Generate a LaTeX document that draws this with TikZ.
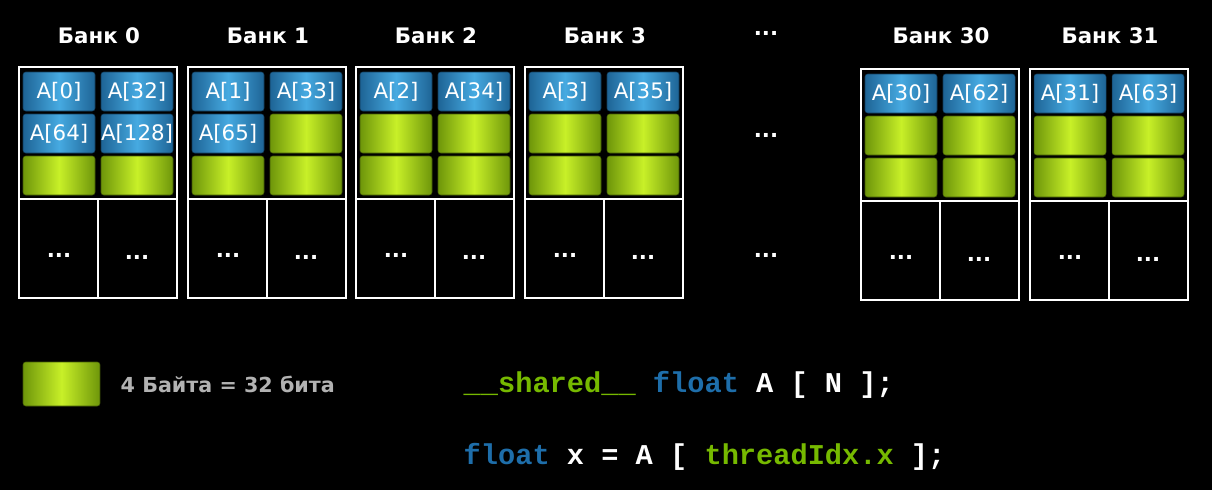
\documentclass[tikz,border=0pt]{standalone}
\usepackage{fontspec}
\setmainfont{DejaVu Sans}
\newfontfamily\codefont{Liberation Mono}
\definecolor{bluecell}{RGB}{30,100,150}
\definecolor{bluehi}{RGB}{70,170,225}
\definecolor{greencell}{RGB}{110,150,10}
\definecolor{greenhi}{RGB}{200,240,40}
\definecolor{codegreen}{RGB}{118,185,0}
\definecolor{codeblue}{RGB}{30,110,170}
\tikzset{
  bank/.style = {draw = white, line width = 1.5pt},
  bluebox/.style = {rounded corners = 2pt, left color = bluecell, right color = bluecell, middle color = bluehi, draw = bluecell!60!black},
  greenbox/.style = {rounded corners = 2pt, left color = greencell, right color = greencell, middle color = greenhi, draw = greencell!60!black},
  celltext/.style = {text = white, font = \fontsize{16}{16}\selectfont},
  title/.style = {text = white, font = \bfseries\fontsize{16}{16}\selectfont},
  dots/.style = {text = white, font = \bfseries\fontsize{16}{16}\selectfont}
}
% one bank: x, y, title, four labels (empty = green)
\newcommand{\bankbox}[8]{
  \draw[bank] (#1, #2) rectangle ++(158, 231);
  \draw[bank] (#1 + 79, #2 + 132) -- ++(0, 99);
  \draw[bank] (#1, #2 + 132) -- ++(158, 0);
  \node[title] (#3t) at (#1 + 80, 36) {#4};
  \foreach \r/\lab/\labb in {0/#5/#6, 1/#7/#8, 2//}{
    \ifx\lab\empty
      \draw[greenbox] (#1 + 4, #2 + 5 + \r*42) rectangle ++(72, 39);
    \else
      \draw[bluebox] (#1 + 4, #2 + 5 + \r*42) rectangle ++(72, 39) node[pos = 0.5, celltext] {\lab};
    \fi
    \ifx\labb\empty
      \draw[greenbox] (#1 + 82, #2 + 5 + \r*42) rectangle ++(72, 39);
    \else
      \draw[bluebox] (#1 + 82, #2 + 5 + \r*42) rectangle ++(72, 39) node[pos = 0.5, celltext] {\labb};
    \fi
  }
  \node[dots] at (#1 + 40, #2 + 188) {...};
  \node[dots] at (#1 + 118, #2 + 190) {...};
}
\begin{document}
\begin{tikzpicture}[x = 0.75pt, y = -0.75pt]
  \fill[black] (0, 0) rectangle (1212, 490);
  \useasboundingbox (0, 0) rectangle (1212, 490);

  \bankbox{19}{67}{b0}{Банк 0}{A[0]}{A[32]}{A[64]}{A[128]}
  \bankbox{188}{67}{b1}{Банк 1}{A[1]}{A[33]}{A[65]}{}
  \bankbox{356}{67}{b2}{Банк 2}{A[2]}{A[34]}{}{}
  \bankbox{525}{67}{b3}{Банк 3}{A[3]}{A[35]}{}{}
  \bankbox{861}{69}{b30}{Банк 30}{A[30]}{A[62]}{}{}
  \bankbox{1030}{69}{b31}{Банк 31}{A[31]}{A[63]}{}{}

  \node[dots] (gapA) at (766, 33) {...};
  \node[dots] (gapB) at (766, 135) {...};
  \node[dots] (gapC) at (766, 255) {...};

  % legend
  \draw[greenbox] (23, 362) rectangle (100, 406);
  \node[anchor = west, text = white!70!black, font = \bfseries\fontsize{15.5}{15.5}\selectfont] (legend) at (116, 384) {4 Байта = 32 бита};

  % code
  \node[anchor = west, font = \codefont\bfseries\fontsize{21.5}{21.5}\selectfont, text = white] (codeA) at (459, 385)
    {\textcolor{codegreen}{\_\_shared\_\_} \textcolor{codeblue}{float} A [ N ];};
  \node[anchor = west, font = \codefont\bfseries\fontsize{21.5}{21.5}\selectfont, text = white] (codeB) at (459, 457)
    {\textcolor{codeblue}{float} x = A [ \textcolor{codegreen}{threadIdx.x} ];};
\end{tikzpicture}
\end{document}
